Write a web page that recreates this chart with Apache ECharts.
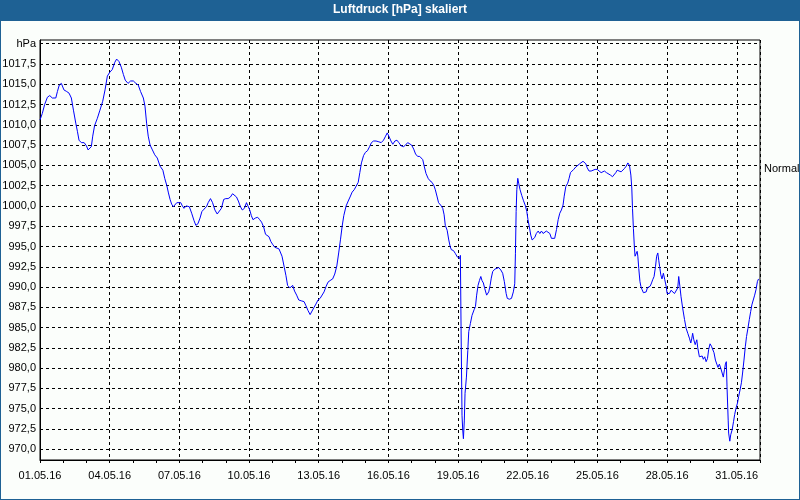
<!DOCTYPE html>
<html>
<head>
<meta charset="utf-8">
<script src="https://cdn.jsdelivr.net/npm/echarts@6/dist/echarts.min.js"></script>
<style>
  body { margin: 0; }
  #main { width: 800px; height: 500px; }
</style>
</head>
<body>
<div id="main"></div>
<script>
// Tage ab 01.05.16 00:00
const tage = [
  0.00, 0.10, 0.20, 0.32, 0.42, 0.53, 0.68, 0.75, 0.83, 0.92, 1.03, 1.15, 1.25, 1.35, 1.44, 1.54, 1.61, 1.68, 1.78, 1.90,
  2.00, 2.07, 2.15, 2.21, 2.27, 2.35, 2.47, 2.58, 2.70, 2.80, 2.90, 3.01, 3.11, 3.22, 3.30, 3.40, 3.50, 3.59, 3.67, 3.79,
  3.90, 4.02, 4.13, 4.23, 4.33, 4.45, 4.52, 4.59, 4.66, 4.74, 4.84, 4.94, 5.05, 5.17, 5.29, 5.37, 5.46, 5.53, 5.60, 5.67,
  5.74, 5.81, 5.89, 5.97, 6.06, 6.13, 6.20, 6.29, 6.36, 6.43, 6.53, 6.63, 6.71, 6.80, 6.89, 6.97, 7.06, 7.17, 7.24, 7.34,
  7.43, 7.53, 7.63, 7.71, 7.81, 7.91, 8.00, 8.10, 8.20, 8.29, 8.37, 8.46, 8.54, 8.63, 8.71, 8.80, 8.89, 8.96, 9.03, 9.10,
  9.17, 9.27, 9.37, 9.46, 9.54, 9.63, 9.71, 9.79, 9.86, 9.94, 10.03, 10.11, 10.20, 10.29, 10.42, 10.52, 10.59, 10.66, 10.76, 10.88,
  10.96, 11.05, 11.14, 11.25, 11.37, 11.45, 11.54, 11.63, 11.71, 11.80, 11.88, 11.97, 12.06, 12.14, 12.23, 12.32, 12.40, 12.49, 12.60, 12.69,
  12.78, 12.86, 12.94, 13.01, 13.08, 13.18, 13.27, 13.35, 13.44, 13.53, 13.61, 13.70, 13.77, 13.84, 13.93, 14.01, 14.10, 14.19, 14.27, 14.36,
  14.47, 14.59, 14.69, 14.79, 14.88, 14.95, 15.02, 15.11, 15.19, 15.28, 15.37, 15.45, 15.55, 15.65, 15.74, 15.83, 15.91, 16.00, 16.09, 16.17,
  16.26, 16.35, 16.48, 16.55, 16.62, 16.71, 16.79, 16.88, 16.96, 17.02, 17.10, 17.16, 17.25, 17.34, 17.40, 17.45, 17.53, 17.60, 17.66, 17.71,
  17.80, 17.89, 17.97, 18.06, 18.10, 18.13, 18.17, 18.20, 18.23, 18.27, 18.30, 18.36, 18.42, 18.46, 18.53, 18.60, 18.69, 18.75, 18.80, 18.86,
  18.92, 18.98, 19.03, 19.09, 19.15, 19.23, 19.32, 19.38, 19.43, 19.49, 19.58, 19.66, 19.75, 19.84, 19.92, 19.99, 20.07, 20.12, 20.21, 20.30,
  20.38, 20.44, 20.47, 20.50, 20.53, 20.57, 20.61, 20.67, 20.74, 20.81, 20.90, 20.96, 21.01, 21.07, 21.13, 21.19, 21.24, 21.30, 21.37, 21.45,
  21.52, 21.59, 21.66, 21.73, 21.80, 21.88, 21.95, 22.02, 22.09, 22.16, 22.24, 22.31, 22.38, 22.45, 22.52, 22.57, 22.64, 22.72, 22.78, 22.84,
  22.90, 22.98, 23.07, 23.15, 23.24, 23.31, 23.38, 23.45, 23.50, 23.56, 23.64, 23.73, 23.81, 23.90, 23.99, 24.07, 24.16, 24.22, 24.30, 24.39,
  24.47, 24.56, 24.65, 24.73, 24.79, 24.85, 24.93, 25.02, 25.09, 25.16, 25.24, 25.31, 25.38, 25.44, 25.48, 25.51, 25.55, 25.59, 25.62, 25.67,
  25.71, 25.74, 25.78, 25.83, 25.87, 25.92, 25.98, 26.03, 26.10, 26.15, 26.21, 26.27, 26.33, 26.38, 26.44, 26.50, 26.55, 26.60, 26.64, 26.68,
  26.73, 26.78, 26.84, 26.90, 26.96, 27.00, 27.04, 27.10, 27.17, 27.24, 27.32, 27.39, 27.46, 27.50, 27.55, 27.60, 27.67, 27.75, 27.82, 27.89,
  27.96, 28.02, 28.06, 28.10, 28.15, 28.21, 28.28, 28.32, 28.39, 28.45, 28.51, 28.56, 28.62, 28.68, 28.74, 28.79, 28.85, 28.91, 28.97, 29.02,
  29.08, 29.14, 29.19, 29.25, 29.31, 29.37, 29.42, 29.47, 29.51, 29.55, 29.58, 29.63, 29.65, 29.70, 29.74, 29.80, 29.86, 29.91, 29.97, 30.03,
  30.08, 30.14, 30.20, 30.25, 30.31, 30.37, 30.42, 30.48, 30.54, 30.60, 30.65, 30.71, 30.77, 30.83, 30.89, 30.94
]
// Luftdruck in hPa
const druck = [
  1010.6, 1011.4, 1012.5, 1013.4, 1013.6, 1013.3, 1013.3, 1014.1, 1014.9, 1015.1, 1014.3, 1014.1, 1013.9, 1013.3, 1011.8, 1010.2, 1009.2, 1008.1, 1007.8, 1007.8,
  1007.4, 1006.9, 1006.7, 1007.3, 1008.6, 1009.9, 1010.8, 1011.8, 1012.9, 1014.3, 1016.0, 1016.5, 1016.8, 1017.7, 1018.1, 1017.8, 1017.1, 1016.2, 1015.5, 1015.1,
  1015.4, 1015.4, 1015.1, 1014.9, 1014.1, 1013.3, 1012.3, 1010.2, 1008.6, 1007.5, 1006.9, 1006.3, 1005.9, 1004.9, 1004.4, 1003.4, 1002.5, 1001.6, 1000.8, 1000.2,
  999.9, 1000.0, 1000.4, 1000.5, 1000.4, 1000.0, 999.7, 1000.0, 1000.2, 999.9, 999.1, 998.2, 997.6, 997.8, 998.5, 999.3, 999.6, 999.9, 1000.4, 1000.9,
  1000.4, 999.5, 999.0, 998.9, 999.7, 1000.8, 1000.9, 1000.9, 1001.1, 1001.5, 1001.7, 1001.1, 1000.6, 999.9, 999.5, 999.7, 1000.4, 1000.3, 999.5, 998.8,
  998.3, 998.5, 998.6, 998.3, 998.0, 997.4, 996.5, 996.3, 996.2, 995.6, 995.2, 994.9, 994.8, 994.7, 993.8, 992.4, 991.4, 990.2, 989.9, 990.2,
  989.5, 989.0, 988.4, 988.3, 988.2, 987.7, 987.1, 986.6, 986.8, 987.5, 987.9, 988.4, 988.6, 988.8, 989.4, 990.1, 990.6, 990.8, 991.0, 991.6,
  992.6, 994.2, 995.9, 997.5, 998.8, 1000.0, 1000.6, 1001.1, 1001.7, 1002.0, 1002.2, 1002.9, 1004.1, 1005.3, 1006.2, 1006.6, 1006.8, 1007.3, 1007.8, 1008.0,
  1008.0, 1007.9, 1007.8, 1008.1, 1008.6, 1009.0, 1008.6, 1008.0, 1007.6, 1008.0, 1008.1, 1007.8, 1007.4, 1007.3, 1007.5, 1007.8, 1007.9, 1007.5, 1007.0, 1006.4,
  1006.1, 1006.1, 1005.7, 1004.8, 1004.0, 1003.4, 1003.1, 1002.9, 1002.5, 1002.0, 1001.1, 1000.4, 1000.1, 999.7, 998.9, 997.6, 997.0, 995.8, 995.0, 994.6,
  994.5, 994.1, 993.7, 993.5, 993.9, 984.7, 974.2, 972.4, 971.3, 973.6, 976.9, 978.9, 982.2, 984.5, 985.5, 986.5, 987.2, 987.6, 989.0, 990.2,
  990.8, 991.3, 990.8, 990.5, 989.8, 989.0, 989.4, 990.2, 991.1, 991.9, 992.2, 992.3, 992.4, 992.1, 991.7, 990.7, 989.2, 988.6, 988.5, 988.6,
  989.4, 990.4, 994.1, 999.3, 1002.0, 1003.4, 1002.8, 1002.0, 1001.3, 1000.7, 1000.0, 999.3, 998.3, 997.4, 996.4, 995.8, 995.7, 996.1, 996.6, 996.9,
  996.6, 996.9, 996.6, 996.7, 996.9, 997.0, 996.6, 996.0, 995.8, 996.0, 997.1, 998.3, 999.1, 999.5, 1000.1, 1001.2, 1002.4, 1002.8, 1003.4, 1004.1,
  1004.3, 1004.5, 1004.8, 1004.9, 1005.2, 1005.3, 1005.5, 1005.5, 1005.2, 1004.7, 1004.3, 1004.3, 1004.5, 1004.5, 1004.5, 1004.4, 1004.1, 1003.9, 1004.3, 1004.1,
  1004.1, 1003.8, 1003.6, 1003.6, 1004.1, 1004.4, 1004.5, 1004.2, 1004.3, 1004.6, 1004.9, 1005.3, 1005.0, 1003.8, 1002.2, 999.7, 997.2, 995.0, 993.8, 994.0,
  994.4, 993.8, 992.3, 990.7, 990.1, 989.7, 989.3, 989.2, 989.4, 989.9, 989.7, 990.1, 990.5, 990.9, 991.3, 992.5, 993.8, 994.2, 993.3, 992.5,
  991.5, 991.0, 991.7, 990.9, 990.1, 989.2, 989.4, 989.2, 989.6, 989.4, 989.2, 989.2, 989.9, 991.3, 990.1, 988.8, 987.4, 986.0, 984.9, 984.3,
  983.7, 983.1, 983.6, 984.3, 983.5, 982.9, 983.5, 982.5, 981.4, 981.2, 981.5, 981.1, 981.4, 980.8, 981.2, 982.3, 983.0, 982.7, 982.6, 981.9,
  981.0, 980.5, 980.1, 980.5, 980.0, 979.4, 978.9, 979.8, 980.5, 980.8, 977.7, 973.6, 972.0, 971.0, 971.8, 972.4, 973.4, 974.3, 975.1, 975.7,
  976.5, 977.3, 978.2, 979.4, 981.0, 982.7, 983.9, 984.9, 986.0, 987.0, 987.8, 988.4, 989.0, 989.7, 990.7, 991.0
]
const xLabels = ['01.05.16', '04.05.16', '07.05.16', '10.05.16', '13.05.16', '16.05.16',
  '19.05.16', '22.05.16', '25.05.16', '28.05.16', '31.05.16']
const yTicks = [970, 972.5, 975, 977.5, 980, 982.5, 985, 987.5, 990, 992.5, 995, 997.5,
  1000, 1002.5, 1005, 1007.5, 1010, 1012.5, 1015, 1017.5, 1020]
const normalWert = 1004.5

const blau = '#1e6194'
const schrift = 'Liberation Sans'
const yMin = 968.68
const yMax = 1020.45

const chart = echarts.init(document.getElementById('main'))
const option = {
  animation: false,
  backgroundColor: '#fbfefb',
  textStyle: { fontFamily: schrift },
  graphic: [
    {
      type: 'rect',
      shape: { x: 0, y: 0, width: 800, height: 21 },
      style: { fill: blau }
    },
    {
      type: 'rect',
      shape: { x: 0, y: 0, width: 800, height: 500 },
      style: { fill: 'none', stroke: blau, lineWidth: 2 }
    }
  ],
  title: {
    text: 'Luftdruck [hPa] skaliert',
    left: 'center',
    top: 4,
    padding: 0,
    textStyle: { color: '#fff', fontSize: 12, fontWeight: 'bold', fontFamily: schrift }
  },
  grid: {
    left: 40,
    right: 40,
    top: 40,
    bottom: 40,
    outerBoundsMode: 'none',
    containLabel: false,
    show: true,
    borderColor: '#000',
    borderWidth: 1,
    backgroundColor: 'transparent'
  },
  xAxis: [
    {
      type: 'value',
      min: 0,
      max: 31,
      interval: 1,
      axisLine: { lineStyle: { color: '#000' } },
      axisTick: { show: true, inside: false, length: 3, lineStyle: { color: '#000' } },
      axisLabel: {
        color: '#000',
        fontSize: 11,
        fontFamily: schrift,
        margin: 10,
        formatter: function (v) {
          return v % 3 === 0 ? xLabels[v / 3] : ''
        }
      },
      splitLine: { show: false }
    },
    {
      type: 'value',
      position: 'top',
      min: 0,
      max: 31,
      interval: 3,
      axisLine: { show: false },
      axisTick: { show: false },
      axisLabel: { show: false },
      splitLine: { show: true, lineStyle: { color: '#000', type: [3, 3], width: 1 } }
    }
  ],
  yAxis: [
    {
      type: 'value',
      min: yMin,
      max: yMax,
      axisLine: { show: true, lineStyle: { color: '#000' } },
      axisTick: { show: false, customValues: yTicks },
      axisLabel: {
        color: '#000',
        fontSize: 11,
        fontFamily: schrift,
        margin: 4,
        customValues: yTicks,
        formatter: function (v) {
          return v === 1020 ? 'hPa' : v.toFixed(1).replace('.', ',')
        }
      },
      splitLine: { show: true, lineStyle: { color: '#000', type: [3, 3], width: 1 } }
    },
    {
      type: 'value',
      position: 'right',
      min: yMin,
      max: yMax,
      axisLine: { show: false },
      axisTick: { show: true, length: 3, customValues: [normalWert], lineStyle: { color: '#000' } },
      axisLabel: {
        color: '#000',
        fontSize: 11,
        fontFamily: schrift,
        margin: 4,
        customValues: [normalWert],
        formatter: function () { return 'Normal' }
      },
      splitLine: { show: false }
    }
  ],
  series: [
    {
      name: 'Luftdruck',
      type: 'line',
      showSymbol: false,
      lineStyle: { color: '#0000ff', width: 1 },
      data: tage.map((t, i) => [t, druck[i]])
    }
  ]
}
chart.setOption(option)
</script>
</body>
</html>
